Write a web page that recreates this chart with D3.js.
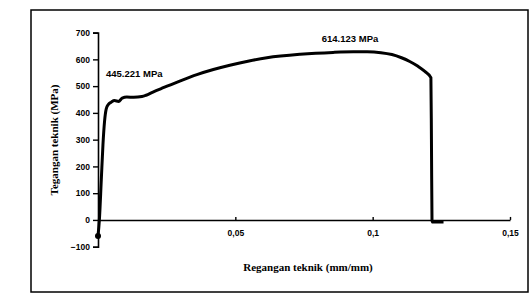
<!DOCTYPE html>
<html>
<head>
<meta charset="utf-8">
<script src="https://cdn.jsdelivr.net/npm/d3@7"></script>
<style>
  body { margin: 0; background: #fff; }
  .tick text { font-family: Arial, "Liberation Sans", sans-serif; font-weight: bold; font-size: 8.5px; }
</style>
</head>
<body>
<div id="chart"></div>
<script>
// strain (mm/mm) and stress (MPa)
var strain = [0, 0.0005, 0.0012, 0.0018, 0.0024, 0.003, 0.0038, 0.0048, 0.006, 0.0075, 0.0088,
    0.0105, 0.013, 0.016, 0.0175, 0.02, 0.024, 0.03, 0.036, 0.042, 0.048, 0.055, 0.0615,
    0.0736, 0.0856, 0.093, 0.098, 0.103, 0.107, 0.1105, 0.1135, 0.1165, 0.119, 0.1212,
    0.1214, 0.1216, 0.1218, 0.1224, 0.1258];
var stress = [-60, 0, 150, 280, 370, 415, 432, 440, 446, 443, 455,
    459, 458, 461, 466, 478, 495, 520, 543, 562, 578, 594, 606,
    619, 626, 628, 628, 625, 618, 606, 592, 574, 555, 532,
    300, 0, -8, -8, -8];

var yTicks = [-100, 0, 100, 200, 300, 400, 500, 600, 700];
var xTicks = [0.05, 0.1, 0.15];
var xTickLabels = ["0,05", "0,1", "0,15"];

var yieldLabel = "445.221 MPa";
var peakLabel = "614.123 MPa";
var xTitle = "Regangan teknik (mm/mm)";
var yTitle = "Tegangan teknik (MPa)";

function init() {
    var w = 532, h = 300;

    var svg = d3.select("#chart")
        .append("svg")
        .attr("width", w)
        .attr("height", h);

    // scanned frame
    svg.append("rect")
        .attr("x", 31).attr("y", 10)
        .attr("width", 497).attr("height", 282)
        .attr("fill", "none")
        .attr("stroke", "#000")
        .attr("stroke-width", 1.5);

    var xScale = d3.scaleLinear().domain([0, 0.15]).range([98, 510]);
    var yScale = d3.scaleLinear().domain([-100, 700]).range([246.7, 32.6]);

    var yAxis = d3.axisLeft(yScale)
        .tickValues(yTicks)
        .tickSizeInner(5)
        .tickSizeOuter(5)
        .tickPadding(3);

    svg.append("g")
        .attr("transform", "translate(" + xScale(0) + ",0)")
        .call(yAxis);

    var xAxis = d3.axisBottom(xScale)
        .tickValues(xTicks)
        .tickFormat(function (d, i) { return xTickLabels[i]; })
        .tickSizeInner(-3)
        .tickSizeOuter(0)
        .tickPadding(10);

    svg.append("g")
        .attr("transform", "translate(0," + yScale(0) + ")")
        .call(xAxis);

    svg.selectAll(".domain").attr("stroke-width", 1.6);
    svg.selectAll(".tick line").attr("stroke-width", 1.4);

    var points = strain.map(function (s, i) { return [s, stress[i]]; });

    var line = d3.line()
        .x(function (d) { return xScale(d[0]); })
        .y(function (d) { return yScale(d[1]); })
        .curve(d3.curveMonotoneX);

    svg.append("path")
        .datum(points)
        .attr("fill", "none")
        .attr("stroke", "#000")
        .attr("stroke-width", 3)
        .attr("stroke-linejoin", "round")
        .attr("d", line);

    svg.append("circle")
        .attr("cx", xScale(strain[0]))
        .attr("cy", yScale(stress[0]))
        .attr("r", 3)
        .attr("fill", "#000");

    svg.append("text")
        .attr("x", 106).attr("y", 77)
        .style("font-family", "Arial, 'Liberation Sans', sans-serif")
        .style("font-weight", "bold")
        .style("font-size", "9.5px")
        .text(yieldLabel);

    svg.append("text")
        .attr("x", 350).attr("y", 42)
        .attr("text-anchor", "middle")
        .style("font-family", "Arial, 'Liberation Sans', sans-serif")
        .style("font-weight", "bold")
        .style("font-size", "9.5px")
        .text(peakLabel);

    svg.append("text")
        .attr("x", 308).attr("y", 271)
        .attr("text-anchor", "middle")
        .style("font-family", "'Liberation Serif', 'DejaVu Serif', serif")
        .style("font-weight", "bold")
        .style("font-size", "11px")
        .text(xTitle);

    svg.append("text")
        .attr("transform", "translate(58,140) rotate(-90)")
        .attr("text-anchor", "middle")
        .style("font-family", "'Liberation Serif', 'DejaVu Serif', serif")
        .style("font-weight", "bold")
        .style("font-size", "11px")
        .text(yTitle);
}

window.onload = init;
</script>
</body>
</html>
